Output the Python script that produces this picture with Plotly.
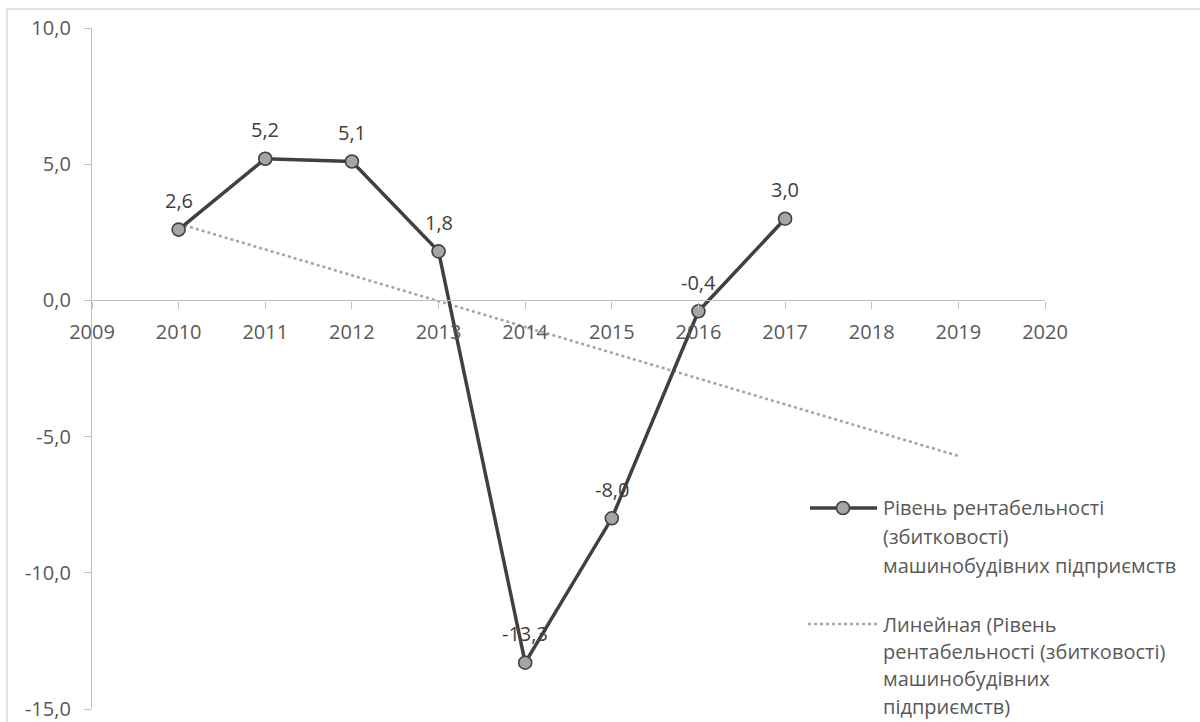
import numpy as np
import plotly.graph_objects as go

# ---- data ----
years = [2010, 2011, 2012, 2013, 2014, 2015, 2016, 2017]
values = [2.6, 5.2, 5.1, 1.8, -13.3, -8.0, -0.4, 3.0]
value_labels = ["2,6", "5,2", "5,1", "1,8", "-13,3", "-8,0", "-0,4", "3,0"]

x_ticks = list(range(2009, 2021))
y_ticks = [-15, -10, -5, 0, 5, 10]
y_tick_labels = ["-15,0", "-10,0", "-5,0", "0,0", "5,0", "10,0"]

series_name = "Рівень рентабельності (збитковості) машинобудівних підприємств"
trend_name = "Линейная (Рівень рентабельності (збитковості) машинобудівних підприємств)"
legend1_lines = ["Рівень рентабельності", "(збитковості)", "машинобудівних підприємств"]
legend2_lines = ["Линейная (Рівень", "рентабельності (збитковості)", "машинобудівних", "підприємств)"]

# linear trend (as spreadsheet trendline, forecast forward 2 periods)
slope, intercept = np.polyfit(years, values, 1)
trend_x = [years[0], years[-1] + 2]
trend_y = [slope * v + intercept for v in trend_x]

# ---- layout geometry ----
W, H = 1200, 722
L, R, T, B = 92, 155, 28, 13
PW, PH = W - L - R, H - T - B


def px(x):
    return (x - L) / PW


def py(y):
    return (H - B - y) / PH


FONT = "Open Sans"
FS = 20
TICK_COLOR = "#595959"
AX_COLOR = "#BFBFBF"
DARK = "#404040"
GRAY = "#A5A5A5"

fig = go.Figure()

fig.add_trace(go.Scatter(
    x=trend_x, y=trend_y, mode="lines", name=trend_name,
    line=dict(color="#A6A6A6", width=2.6, dash="dot"),
    showlegend=False, hoverinfo="skip",
))

fig.add_trace(go.Scatter(
    x=years, y=values, mode="lines+markers", name=series_name,
    line=dict(color=DARK, width=3.5),
    marker=dict(size=13, color=GRAY, line=dict(color=DARK, width=1.6)),
    showlegend=False, cliponaxis=False,
))

annotations = []
for xv, yv, lab in zip(years, values, value_labels):
    annotations.append(dict(
        x=xv, y=yv, xref="x", yref="y", text=lab, showarrow=False,
        yshift=29, font=dict(family=FONT, size=FS, color=DARK),
    ))

shapes = []
# border of chart area
shapes.append(dict(type="rect", xref="paper", yref="paper",
                   x0=px(7), x1=px(W + 20), y0=py(H + 20), y1=py(9),
                   line=dict(color="#D9D9D9", width=1.3), layer="below"))

# manual legend
leg1_y = 508
shapes.append(dict(type="line", xref="paper", yref="paper",
                   x0=px(810), x1=px(877), y0=py(leg1_y), y1=py(leg1_y),
                   line=dict(color=DARK, width=3.5)))
shapes.append(dict(type="circle", xref="paper", yref="paper",
                   xsizemode="pixel", ysizemode="pixel",
                   xanchor=px(843), yanchor=py(leg1_y),
                   x0=-6.5, x1=6.5, y0=-6.5, y1=6.5,
                   fillcolor=GRAY, line=dict(color=DARK, width=1.6)))
leg2_y = 624
shapes.append(dict(type="line", xref="paper", yref="paper",
                   x0=px(808), x1=px(877), y0=py(leg2_y), y1=py(leg2_y),
                   line=dict(color="#A6A6A6", width=2.6, dash="dot")))

gap1 = 28.5
gap2 = 27.4
for i, t in enumerate(legend1_lines):
    annotations.append(dict(
        x=px(882), y=py(leg1_y + i * gap1), xref="paper", yref="paper",
        text=t, showarrow=False, xanchor="left", yanchor="middle", borderpad=0,
        font=dict(family=FONT, size=FS, color=TICK_COLOR),
    ))
for i, t in enumerate(legend2_lines):
    annotations.append(dict(
        x=px(882), y=py(leg2_y + i * gap2), xref="paper", yref="paper",
        text=t, showarrow=False, xanchor="left", yanchor="middle", borderpad=0,
        font=dict(family=FONT, size=FS, color=TICK_COLOR),
    ))

fig.update_layout(
    width=W, height=H,
    margin=dict(l=L, r=R, t=T, b=B, pad=0, autoexpand=False),
    paper_bgcolor="white", plot_bgcolor="white",
    showlegend=False,
    font=dict(family=FONT, size=FS, color=TICK_COLOR),
    annotations=annotations,
    shapes=shapes,
    xaxis=dict(
        range=[2009, 2020], tickvals=x_ticks, ticktext=[str(v) for v in x_ticks],
        showgrid=False, zeroline=False, automargin=False,
        showline=True, linecolor=AX_COLOR, linewidth=1.3,
        ticks="outside", ticklen=7, tickcolor=AX_COLOR, tickwidth=1.3,
        ticklabelstandoff=6,
        anchor="free", position=15 / 25,
        tickfont=dict(family=FONT, size=FS, color=TICK_COLOR),
    ),
    yaxis=dict(
        range=[-15, 10], tickvals=y_ticks, ticktext=y_tick_labels,
        showgrid=False, zeroline=False, automargin=False,
        showline=True, linecolor=AX_COLOR, linewidth=1.3,
        ticks="outside", ticklen=7, tickcolor=AX_COLOR, tickwidth=1.3,
        ticklabelstandoff=9,
        tickfont=dict(family=FONT, size=FS, color=TICK_COLOR),
    ),
)

fig.write_html("out.html")
